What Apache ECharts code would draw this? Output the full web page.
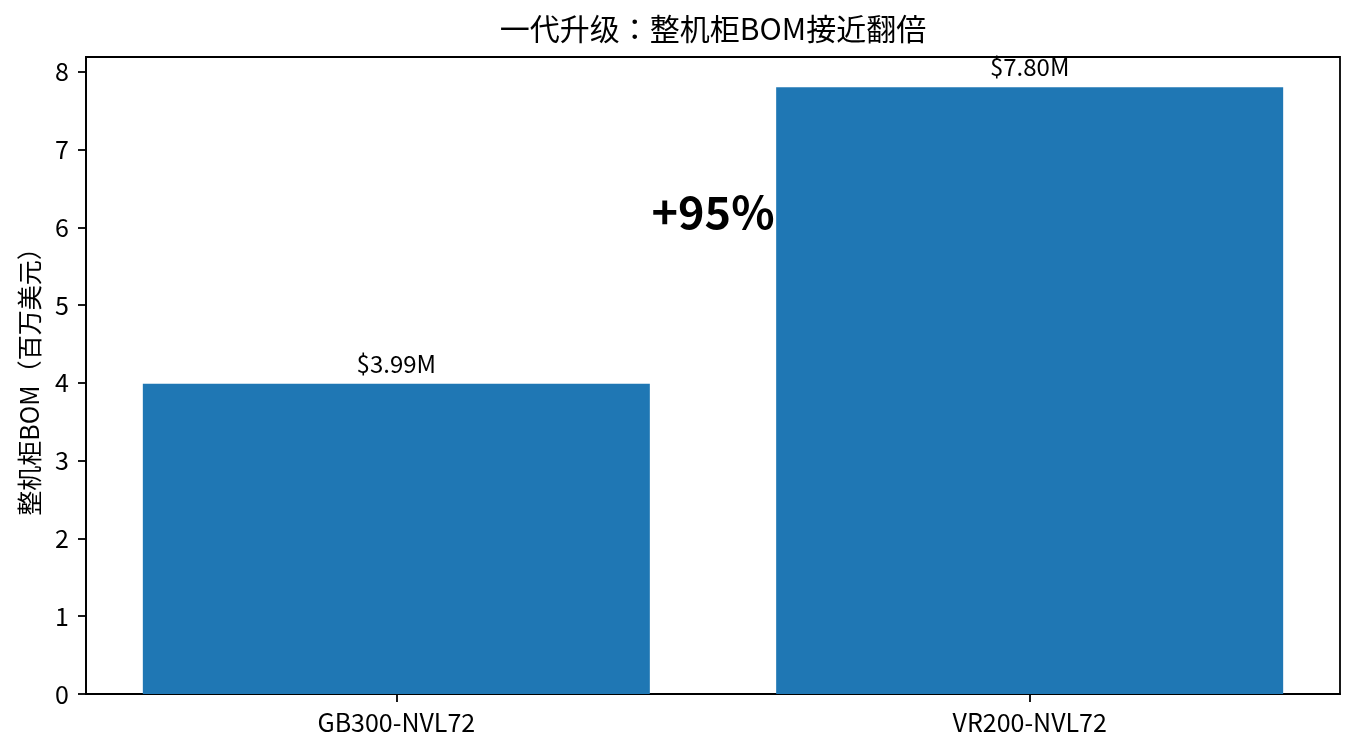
<!DOCTYPE html>
<html>
<head>
<meta charset="utf-8">
<script src="https://cdn.jsdelivr.net/npm/echarts@6/dist/echarts.min.js"></script>
<style>
html,body{margin:0;padding:0;background:#fff;}
#chart{width:1358px;height:756px;}
</style>
</head>
<body>
<div id="chart"></div>
<script>
const categories = ['GB300-NVL72', 'VR200-NVL72'];
const bomValues = [3.99, 7.80];
const yTicks = [0, 1, 2, 3, 4, 5, 6, 7, 8];
const titleText = '一代升级：整机柜BOM接近翻倍';
const yAxisName = '整机柜BOM（百万美元）';
const growthLabel = '+95%';
const growthPos = [0.5, 6.2];

const FONT = '"Noto Sans CJK JP", "Noto Sans CJK SC", sans-serif';
const chart = echarts.init(document.getElementById('chart'), null, {renderer: 'canvas'});

const barData = bomValues.map((v, i) => [i, v]);

chart.setOption({
  animation: false,
  backgroundColor: '#fff',
  textStyle: {fontFamily: FONT, color: '#000'},
  title: {
    text: titleText,
    left: 713,
    top: 14,
    padding: 0,
    textAlign: 'center',
    textStyle: {fontFamily: FONT, fontSize: 30, fontWeight: 'normal', color: '#000'}
  },
  grid: {
    left: 86, right: 18, top: 57, bottom: 62,
    outerBoundsMode: 'none',
    show: true, borderColor: '#000', borderWidth: 1.8, backgroundColor: 'transparent'
  },
  xAxis: {
    type: 'value',
    min: -0.49, max: 1.49,
    splitLine: {show: false},
    axisLine: {show: true, onZero: false, lineStyle: {color: '#000', width: 1.8}},
    axisTick: {show: true, length: 8, lineStyle: {color: '#000', width: 1.8}, customValues: categories.map((c, i) => i)},
    axisLabel: {
      customValues: categories.map((c, i) => i),
      formatter: v => categories[Math.round(v)] || '',
      fontFamily: FONT, fontSize: 25, color: '#000', margin: 16
    }
  },
  yAxis: {
    type: 'value',
    min: 0, max: 8.19,
    name: yAxisName,
    nameLocation: 'middle',
    nameGap: 44,
    nameRotate: 90,
    nameTextStyle: {fontFamily: FONT, fontSize: 25, color: '#000'},
    splitLine: {show: false},
    axisLine: {show: true, onZero: false, lineStyle: {color: '#000', width: 1.8}},
    axisTick: {show: true, length: 8, lineStyle: {color: '#000', width: 1.8}, customValues: yTicks},
    axisLabel: {
      customValues: yTicks,
      fontFamily: FONT, fontSize: 25, color: '#000', margin: 17
    }
  },
  series: [{
    type: 'bar',
    data: barData,
    barWidth: 507,
    itemStyle: {color: '#1f77b4'},
    label: {
      show: true,
      position: 'top',
      distance: 8,
      formatter: p => '$' + p.value[1].toFixed(2) + 'M',
      fontFamily: FONT, fontSize: 24, color: '#000'
    },
    markPoint: {
      symbol: 'circle',
      symbolSize: 0,
      silent: true,
      label: {
        show: true,
        position: 'inside',
        formatter: growthLabel,
        fontFamily: FONT, fontSize: 45, fontWeight: 'bold', color: '#000'
      },
      data: [{coord: growthPos}]
    }
  }]
});
</script>
</body>
</html>
